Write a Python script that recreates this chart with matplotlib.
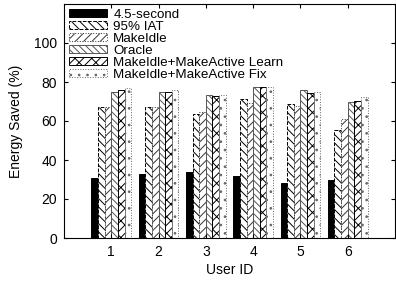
import numpy as np
from matplotlib import pyplot as plt

plt.rcParams['font.family'] = ['Liberation Sans', 'DejaVu Sans']
plt.rcParams['hatch.linewidth'] = 0.7

users = ['1', '2', '3', '4', '5', '6']
series = ['4.5-second', '95% IAT', 'MakeIdle', 'Oracle',
          'MakeIdle+MakeActive Learn', 'MakeIdle+MakeActive Fix']

sec45 = [30.8, 32.8, 33.7, 32.0, 28.4, 29.7]
iat95 = [67.3, 67.0, 63.4, 71.1, 68.7, 55.4]
makeidle = [67.0, 67.0, 64.4, 69.0, 67.7, 60.9]
oracle = [74.7, 74.7, 73.3, 77.3, 75.7, 69.6]
learn = [75.7, 74.7, 72.8, 77.6, 74.2, 70.4]
fix = [76.8, 75.7, 73.5, 77.2, 74.9, 72.2]

values = [sec45, iat95, makeidle, oracle, learn, fix]

# gnuplot-ish fill styles
styles = [
    dict(facecolor='black', edgecolor='black', hatch=None, linestyle='-'),
    dict(facecolor='white', edgecolor='black', hatch='\\\\\\\\', linestyle='--'),
    dict(facecolor='white', edgecolor='#333333', hatch='////', linestyle=':'),
    dict(facecolor='white', edgecolor='#555555', hatch='\\\\\\\\\\', linestyle='-'),
    dict(facecolor='white', edgecolor='black', hatch='////\\\\', linestyle='-'),
    dict(facecolor='white', edgecolor='#666666', hatch='..', linestyle=':'),
]

fig = plt.figure(figsize=(3.96, 2.86), dpi=100)
ax = fig.add_axes([64/396, 48/286, 331/396, 234/286])

x = np.arange(1, len(users) + 1)
w = 0.14
for i, (name, vals) in enumerate(zip(series, values)):
    st = styles[i]
    ax.bar(x + (i - 2.5) * w, vals, w, label=name, facecolor=st['facecolor'],
           edgecolor=st['edgecolor'], hatch=st['hatch'], linestyle=st['linestyle'],
           linewidth=0.7)

ax.set_xlim(0, 7)
ax.set_ylim(0, 120)
ax.set_xticks(x)
ax.set_xticklabels(users)
ax.set_yticks(np.arange(0, 101, 20))
ax.tick_params(direction='in', top=True, right=True, labelsize=10, length=3, pad=5)
ax.set_xlabel('User ID', fontsize=10, labelpad=3)
ax.set_ylabel('Energy Saved (%)', fontsize=10, labelpad=8)

ax.legend(loc='upper left', frameon=False, fontsize=9.6, handlelength=2.9,
          handleheight=0.5, labelspacing=0.0, borderaxespad=0.25,
          handletextpad=0.45, borderpad=0.1)

fig.savefig('out.png', dpi=100)
